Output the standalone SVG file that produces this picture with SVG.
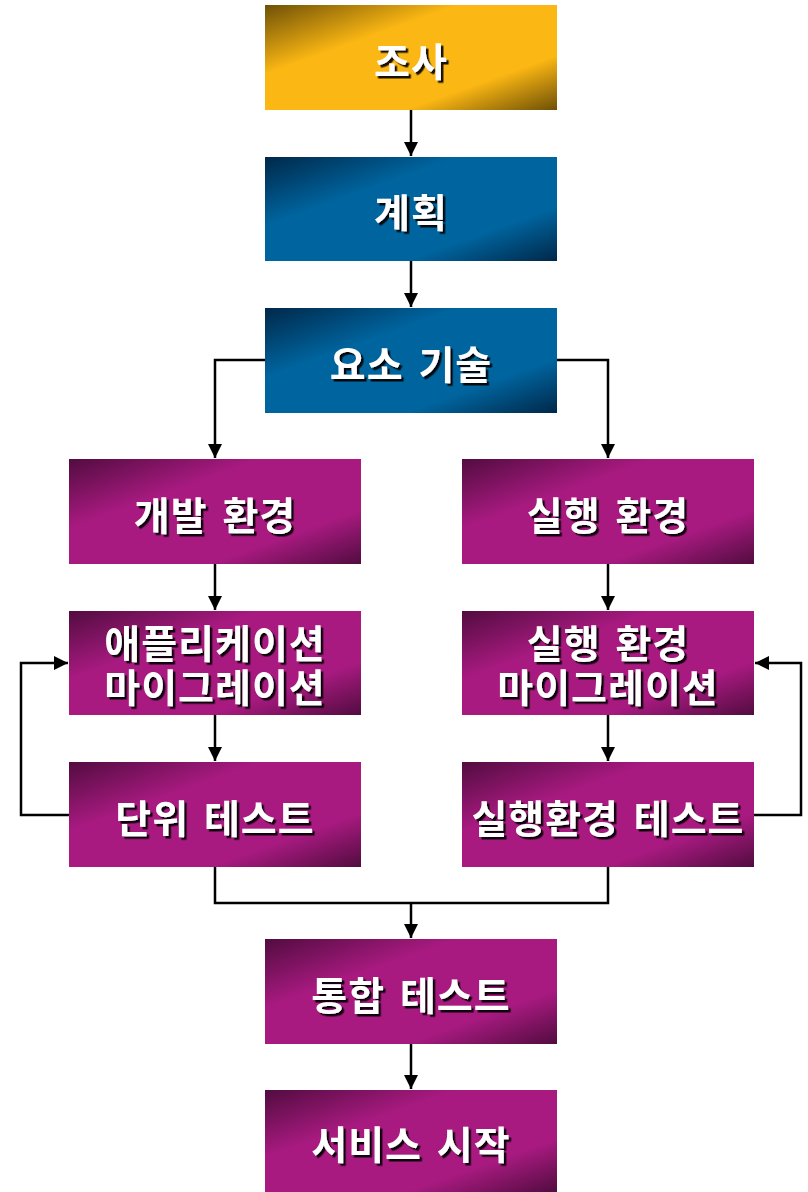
<svg xmlns="http://www.w3.org/2000/svg" width="808" height="1192" viewBox="0 0 808 1192">
<defs>
<linearGradient id="gGold" x1="0" y1="0" x2="1" y2="1">
<stop offset="0" stop-color="#6e5006"/><stop offset="0.33" stop-color="#fbb713"/><stop offset="0.74" stop-color="#fbb713"/><stop offset="1" stop-color="#6e5006"/>
</linearGradient>
<linearGradient id="gBlue" x1="0" y1="0" x2="1" y2="1">
<stop offset="0" stop-color="#00284a"/><stop offset="0.33" stop-color="#00649e"/><stop offset="0.74" stop-color="#00649e"/><stop offset="1" stop-color="#00284a"/>
</linearGradient>
<linearGradient id="gPurple" x1="0" y1="0" x2="1" y2="1">
<stop offset="0" stop-color="#520c40"/><stop offset="0.33" stop-color="#a81a80"/><stop offset="0.74" stop-color="#a81a80"/><stop offset="1" stop-color="#520c40"/>
</linearGradient>
<filter id="sh" x="-10%" y="-20%" width="120%" height="140%">
<feDropShadow dx="2.5" dy="2.5" stdDeviation="0.6" flood-color="#000" flood-opacity="0.9"/>
</filter>
<marker id="ah2" markerWidth="14" markerHeight="14" viewBox="0 0 10 10" refX="10" refY="5" orient="auto" markerUnits="userSpaceOnUse">
<path d="M0,0 L10,5 L0,10 z" fill="#000"/>
</marker>
</defs>
<style>
.lbl{font-family:"Noto Sans CJK KR","Noto Sans",sans-serif;font-weight:bold;font-size:39px;letter-spacing:1px;word-spacing:5px;fill:#fff;text-anchor:middle;filter:url(#sh)}
.c{fill:none;stroke:#000;stroke-width:2.5}
</style>
<g id="connectors">
<path class="c" d="M411,110 V156" marker-end="url(#ah2)"/>
<path class="c" d="M411,261 V307" marker-end="url(#ah2)"/>
<path class="c" d="M265,360 H215 V458" marker-end="url(#ah2)"/>
<path class="c" d="M557,360 H608 V458" marker-end="url(#ah2)"/>
<path class="c" d="M215,564 V610" marker-end="url(#ah2)"/>
<path class="c" d="M608,564 V610" marker-end="url(#ah2)"/>
<path class="c" d="M215,715 V761" marker-end="url(#ah2)"/>
<path class="c" d="M608,715 V761" marker-end="url(#ah2)"/>
<path class="c" d="M69,815 H21 V663 H68" marker-end="url(#ah2)"/>
<path class="c" d="M754,815 H801 V663 H755" marker-end="url(#ah2)"/>
<path class="c" d="M215,867 V903 H608 V867"/>
<path class="c" d="M411,903 V938" marker-end="url(#ah2)"/>
<path class="c" d="M411,1044 V1089" marker-end="url(#ah2)"/>
</g>
<g id="n1"><rect x="265" y="5" width="292" height="105" fill="url(#gGold)"/><text class="lbl" x="411" y="76">조사</text></g>
<g id="n2"><rect x="265" y="157" width="292" height="104" fill="url(#gBlue)"/><text class="lbl" x="411" y="227">계획</text></g>
<g id="n3"><rect x="265" y="308" width="292" height="105" fill="url(#gBlue)"/><text class="lbl" x="411" y="379">요소 기술</text></g>
<g id="n4"><rect x="69" y="459" width="292" height="105" fill="url(#gPurple)"/><text class="lbl" x="215" y="530">개발 환경</text></g>
<g id="n5"><rect x="462" y="459" width="292" height="105" fill="url(#gPurple)"/><text class="lbl" x="608" y="530">실행 환경</text></g>
<g id="n6"><rect x="69" y="611" width="292" height="104" fill="url(#gPurple)"/><text class="lbl" x="215" y="658">애플리케이션<tspan x="215" dy="44">마이그레이션</tspan></text></g>
<g id="n7"><rect x="462" y="611" width="292" height="104" fill="url(#gPurple)"/><text class="lbl" x="608" y="658">실행 환경<tspan x="608" dy="44">마이그레이션</tspan></text></g>
<g id="n8"><rect x="69" y="762" width="292" height="105" fill="url(#gPurple)"/><text class="lbl" x="215" y="833">단위 테스트</text></g>
<g id="n9"><rect x="462" y="762" width="292" height="105" fill="url(#gPurple)"/><text class="lbl" x="608" y="833">실행환경 테스트</text></g>
<g id="n10"><rect x="265" y="939" width="292" height="105" fill="url(#gPurple)"/><text class="lbl" x="411" y="1010">통합 테스트</text></g>
<g id="n11"><rect x="265" y="1090" width="292" height="102" fill="url(#gPurple)"/><text class="lbl" x="411" y="1159">서비스 시작</text></g>
</svg>
